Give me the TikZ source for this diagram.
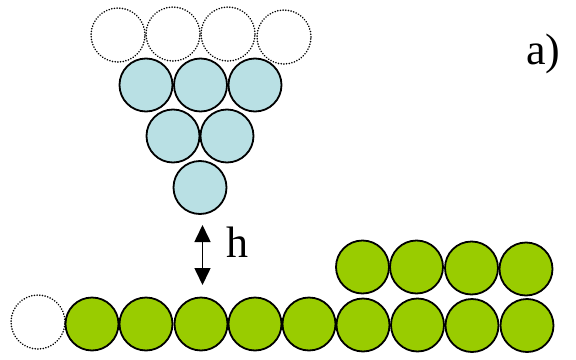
\documentclass[tikz,border=0pt]{standalone}
\usepackage{fontspec}
\setmainfont{Liberation Serif}
\usetikzlibrary{arrows.meta}
\definecolor{ballblue}{RGB}{185,224,228}
\definecolor{ballgreen}{RGB}{153,204,0}
\begin{document}
\begin{tikzpicture}[x=1pt,y=-1pt,
  ball/.style={circle,draw=black,line width=1.8pt,minimum size=53pt,inner sep=0pt,outer sep=0pt},
  blueball/.style={ball,fill=ballblue},
  greenball/.style={ball,fill=ballgreen},
  ghost/.style={circle,draw=black,line width=1.7pt,dash pattern=on 0.1pt off 2.6pt,line cap=round,minimum size=54pt,inner sep=0pt},
  lbl/.style={font=\fontsize{44}{50}\selectfont,inner sep=0pt}]
\useasboundingbox (0,0) rectangle (576,359);
% dotted top row
\node[ghost] (d1) at (118,35) {};
\node[ghost] (d2) at (173,34) {};
\node[ghost] (d3) at (228,34) {};
\node[ghost] (d4) at (284,37) {};
% blue triangle
\node[blueball] (b1) at (146,85) {};
\node[blueball] (b2) at (200.5,85) {};
\node[blueball] (b3) at (255,85) {};
\node[blueball] (b4) at (173,136) {};
\node[blueball] (b5) at (227,136) {};
\node[blueball] (b6) at (200,187.5) {};
% bottom row
\node[ghost] (g0) at (38,322) {};
\node[greenball] (g1) at (92,324) {};
\node[greenball] (g2) at (146,324) {};
\node[greenball] (g3) at (201,324) {};
\node[greenball] (g4) at (255,324) {};
\node[greenball] (g5) at (309,324) {};
\node[greenball] (g6) at (363,325) {};
\node[greenball] (g7) at (417.5,325) {};
\node[greenball] (g8) at (472,325.5) {};
\node[greenball] (g9) at (527,325.5) {};
% top green row
\node[greenball] (t1) at (362.5,267) {};
\node[greenball] (t2) at (416.5,267) {};
\node[greenball] (t3) at (471.5,268) {};
\node[greenball] (t4) at (526,269) {};
% arrow
\coordinate (atop) at (202.5,225);
\coordinate (abot) at (202.5,285);
\draw[line width=1.6pt,{Triangle[width=16pt,length=17pt]}-{Triangle[width=16pt,length=17pt]}] (atop) -- (abot);
\node[lbl,anchor=base west] (h) at (226,257) {h};
\node[lbl,anchor=base west] (a) at (526,64) {a)};
\end{tikzpicture}
\end{document}
